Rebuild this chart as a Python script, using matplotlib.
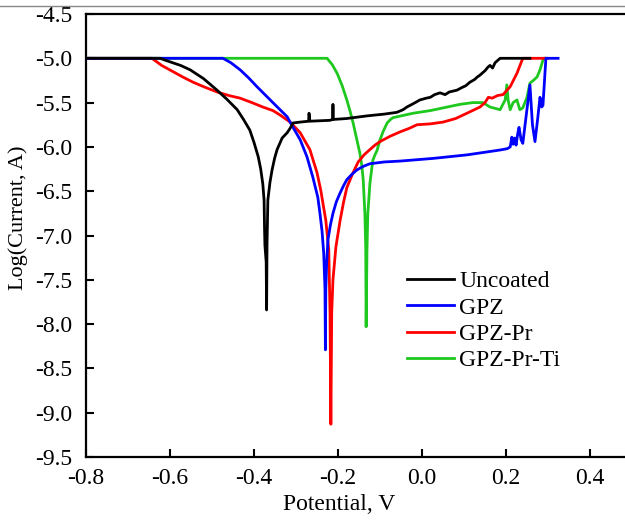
import matplotlib
matplotlib.use('Agg')
import matplotlib.pyplot as plt
from matplotlib.lines import Line2D

plt.rcParams['font.family'] = ['Liberation Serif', 'DejaVu Serif']
plt.rcParams['axes.unicode_minus'] = False

# Uncoated
uncoated_x = [-0.80, -0.624, -0.600, -0.575, -0.552, -0.520, -0.488, -0.465, -0.440, -0.425,
              -0.410, -0.400, -0.390, -0.384, -0.379, -0.376, -0.375, -0.374, -0.371, -0.370,
              -0.369, -0.367, -0.362, -0.357, -0.351, -0.345, -0.333, -0.321, -0.314, -0.307,
              -0.290, -0.270, -0.269, -0.267, -0.219, -0.213, -0.212, -0.211, -0.180, -0.131,
              -0.090, -0.060, -0.045, -0.036, -0.020, -0.005, 0.010, 0.020, 0.030, 0.043,
              0.055, 0.065, 0.083, 0.095, 0.104, 0.114, 0.125, 0.132, 0.138, 0.150,
              0.157, 0.162, 0.168, 0.174, 0.186, 0.257]
uncoated_y = [-5.00, -5.00, -5.04, -5.08, -5.13, -5.23, -5.36, -5.46, -5.58, -5.69,
              -5.81, -5.95, -6.11, -6.25, -6.42, -6.60, -6.90, -7.11, -7.30, -7.84,
              -7.10, -6.60, -6.40, -6.26, -6.13, -6.03, -5.90, -5.84, -5.79, -5.73,
              -5.72, -5.71, -5.62, -5.71, -5.70, -5.69, -5.52, -5.69, -5.68, -5.65,
              -5.63, -5.61, -5.58, -5.55, -5.51, -5.47, -5.45, -5.44, -5.41, -5.39,
              -5.41, -5.38, -5.36, -5.33, -5.31, -5.27, -5.24, -5.21, -5.19, -5.14,
              -5.10, -5.08, -5.11, -5.05, -5.00, -5.00]

# GPZ
gpz_x = [-0.80, -0.474, -0.455, -0.433, -0.413, -0.393, -0.374, -0.355, -0.338, -0.321,
         -0.307, -0.290, -0.274, -0.260, -0.248, -0.243, -0.238, -0.234, -0.231, -0.230,
         -0.229, -0.227, -0.224, -0.218, -0.212, -0.204, -0.195, -0.187, -0.179, -0.167,
         -0.155, -0.140, -0.124, -0.090, -0.052, 0.026, 0.107, 0.186, 0.203, 0.210,
         0.214, 0.217, 0.221, 0.224, 0.228, 0.231, 0.236, 0.240, 0.248, 0.257,
         0.263, 0.269, 0.275, 0.281, 0.285, 0.288, 0.295, 0.324]
gpz_y = [-5.00, -5.00, -5.05, -5.13, -5.22, -5.32, -5.41, -5.50, -5.58, -5.66,
         -5.78, -5.92, -6.11, -6.34, -6.57, -6.75, -6.95, -7.20, -7.60, -8.29,
         -7.60, -7.31, -7.05, -6.88, -6.75, -6.62, -6.52, -6.44, -6.37, -6.31,
         -6.26, -6.22, -6.19, -6.17, -6.16, -6.13, -6.09, -6.035, -6.02, -6.00,
         -5.89, -5.97, -5.90, -5.98, -5.85, -5.78, -5.92, -5.96, -5.65, -5.30,
         -5.75, -5.94, -5.70, -5.44, -5.55, -5.53, -5.00, -5.00]

# GPZ-Pr
gpzpr_x = [-0.80, -0.643, -0.620, -0.593, -0.570, -0.545, -0.515, -0.488, -0.460, -0.433,
           -0.405, -0.379, -0.355, -0.338, -0.314, -0.290, -0.267, -0.250, -0.241, -0.229,
           -0.222, -0.219, -0.217, -0.215, -0.212, -0.205, -0.195, -0.187, -0.179, -0.165,
           -0.152, -0.138, -0.124, -0.112, -0.100, -0.076, -0.052, -0.030, -0.012, 0.020,
           0.050, 0.080, 0.107, 0.138, 0.150, 0.158, 0.167, 0.180, 0.193, 0.210,
           0.226, 0.240, 0.298]
gpzpr_y = [-5.00, -5.00, -5.08, -5.15, -5.21, -5.27, -5.33, -5.38, -5.42, -5.45,
           -5.50, -5.55, -5.59, -5.64, -5.72, -5.84, -6.03, -6.29, -6.49, -6.83,
           -7.16, -7.87, -9.13, -7.87, -7.50, -7.13, -6.83, -6.63, -6.46, -6.30,
           -6.17, -6.09, -6.03, -5.98, -5.94, -5.88, -5.83, -5.79, -5.75, -5.74,
           -5.72, -5.68, -5.62, -5.55, -5.50, -5.44, -5.45, -5.42, -5.41, -5.32,
           -5.17, -5.00, -5.00]

# GPZ-Pr-Ti
gpzprti_x = [-0.80, -0.226, -0.214, -0.202, -0.190, -0.179, -0.171, -0.164, -0.156, -0.148,
             -0.143, -0.140, -0.136, -0.134, -0.133, -0.131, -0.129, -0.126, -0.124, -0.120,
             -0.117, -0.112, -0.107, -0.100, -0.092, -0.083, -0.075, -0.069, -0.045, -0.021,
             0.020, 0.060, 0.090, 0.121, 0.145, 0.162, 0.186, 0.198, 0.202, 0.205,
             0.210, 0.217, 0.226, 0.233, 0.240, 0.250, 0.257, 0.265, 0.274, 0.281,
             0.288, 0.293]
gpzprti_y = [-5.00, -5.00, -5.07, -5.17, -5.31, -5.47, -5.60, -5.73, -5.90, -6.07,
             -6.22, -6.37, -6.75, -7.13, -8.03, -7.16, -6.75, -6.55, -6.41, -6.26,
             -6.15, -6.09, -6.04, -5.92, -5.82, -5.73, -5.69, -5.67, -5.645, -5.62,
             -5.59, -5.55, -5.52, -5.50, -5.50, -5.55, -5.58, -5.47, -5.30, -5.47,
             -5.58, -5.50, -5.47, -5.58, -5.56, -5.44, -5.28, -5.25, -5.21, -5.13,
             -5.02, -5.00]

x_ticks = [-0.8, -0.6, -0.4, -0.2, 0.0, 0.2, 0.4]
y_ticks = [-9.5, -9.0, -8.5, -8.0, -7.5, -7.0, -6.5, -6.0, -5.5, -5.0, -4.5]

fig = plt.figure(figsize=(6.25, 5.21), dpi=100)
ax = fig.add_axes([86 / 625, 64 / 521, 546 / 625, 443 / 521])

ax.plot(gpzprti_x, gpzprti_y, color='#1ec81e', lw=2, label='GPZ-Pr-Ti', zorder=2)
ax.plot(gpzpr_x, gpzpr_y, color='#ff0000', lw=2, label='GPZ-Pr', zorder=3)
ax.plot(gpz_x, gpz_y, color='#0000ff', lw=2, label='GPZ', zorder=4)
ax.plot(uncoated_x, uncoated_y, color='black', lw=2, label='Uncoated', zorder=5)

ax.set_xlim(-0.8, 0.5)
ax.set_ylim(-9.5, -4.5)
ax.set_xticks(x_ticks)
ax.set_xticklabels([f'{v:.1f}' for v in x_ticks])
ax.set_yticks(y_ticks)
ax.set_yticklabels([f'{v:.1f}' for v in y_ticks])
ax.tick_params(direction='in', length=6, width=1.5, labelsize=17, top=False, right=False)
ax.tick_params(axis='x', pad=8)
ax.tick_params(axis='y', pad=10)
for s in ['left', 'bottom', 'top']:
    ax.spines[s].set_linewidth(1.6)
ax.spines['right'].set_visible(False)

ax.set_xlabel('Potential, V', fontsize=17)
ax.set_ylabel('Log(Current, A)', fontsize=16)
ax.xaxis.set_label_coords(0.463, -0.108)
ax.xaxis.label.set_va('center')
ax.yaxis.set_label_coords(-0.125, 0.54)
ax.yaxis.label.set_va('center')

handles, labels = ax.get_legend_handles_labels()
order = [3, 2, 1, 0]
ax.legend([handles[i] for i in order], [labels[i] for i in order],
          loc='upper left', bbox_to_anchor=(0.588, 0.42), frameon=False,
          fontsize=17, handlelength=2.0, handletextpad=0.2, labelspacing=0.2,
          borderpad=0, borderaxespad=0)

# thin border line at the very top of the picture
fig.add_artist(Line2D([0, 1], [1 - 6 / 521, 1 - 6 / 521], color='#888888', lw=1))

fig.savefig('out.png', dpi=100)
